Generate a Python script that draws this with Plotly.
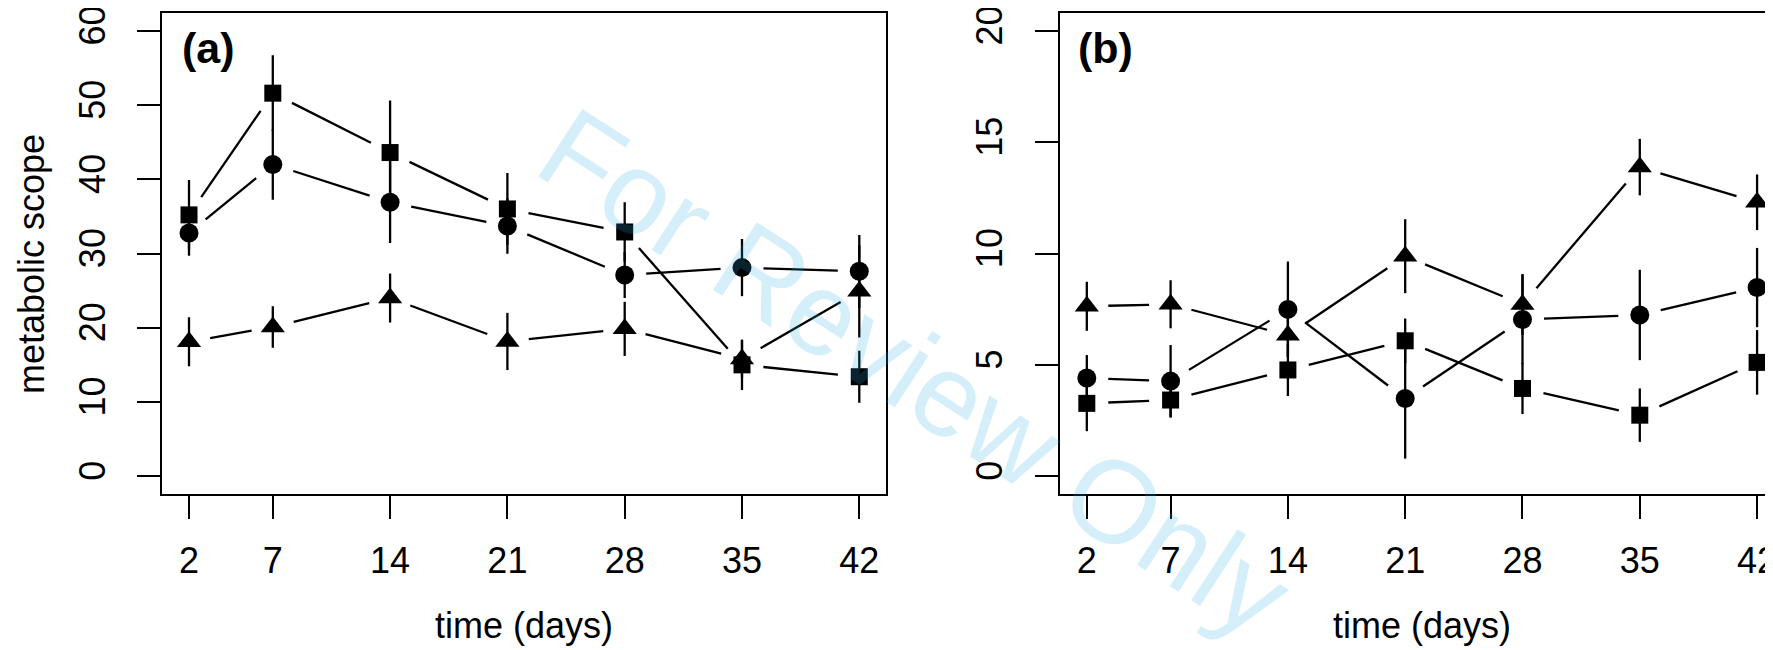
import math
import plotly.graph_objects as go

# ---------------- data ----------------
days = [2, 7, 14, 21, 28, 35, 42]
x_ticks = [2, 7, 14, 21, 28, 35, 42]

# panel (a)
square_a = [35.2, 51.6, 43.6, 36.0, 32.9, 15.0, 13.4]
square_a_se = [4.7, 5.1, 7.0, 4.85, 4.0, 3.4, 3.5]
circle_a = [32.75, 42.0, 36.9, 33.7, 27.1, 28.1, 27.6]
circle_a_se = [3.05, 4.75, 5.5, 3.75, 3.1, 3.85, 4.9]
triangle_a = [18.1, 20.1, 24.0, 18.15, 19.85, 15.8, 24.9]
triangle_a_se = [3.3, 2.8, 3.3, 3.85, 3.65, 2.5, 6.2]
y_ticks_a = [0, 10, 20, 30, 40, 50, 60]

# panel (b)
square_b = [3.27, 3.42, 4.77, 6.08, 3.94, 2.74, 5.11]
square_b_se = [1.25, 0.79, 1.17, 1.0, 1.15, 1.2, 1.45]
circle_b = [4.41, 4.27, 7.49, 3.49, 7.04, 7.24, 8.47]
circle_b_se = [1.03, 1.62, 2.15, 2.7, 2.0, 2.03, 1.78]
triangle_b = [7.63, 7.72, 6.33, 9.88, 7.71, 13.88, 12.3]
triangle_b_se = [1.1, 1.08, 0.95, 1.66, 1.37, 1.27, 1.25]
y_ticks_b = [0, 5, 10, 15, 20]

# ---------------- layout geometry (page pixels) ----------------
PAGE_W, PAGE_H = 1773, 650
OFF = 8                      # default body margin of the html page
FW, FH = PAGE_W - OFF, PAGE_H - OFF
TOP, BOTTOM = 13.3, 493.7
A_LEFT, A_RIGHT = 162.2, 886.1
B_LEFT = 1060.0
XR_A = [0.4, 43.6]
PX_PER_DAY = (A_RIGHT - A_LEFT) / (XR_A[1] - XR_A[0])
XR_B = [0.4, 0.4 + (PAGE_W - B_LEFT) / PX_PER_DAY]
YR_A = [-2.4, 62.4]
YR_B = [-0.8, 20.8]
PLOT_H = BOTTOM - TOP
GAP = 21.5  # gap (px) between point centre and connecting line (R type="b")

FONT = "Liberation Sans, Arial, Helvetica, sans-serif"
LW = 2.3


def fx(px):
    return (px - OFF) / FW


def fy(py):
    return (BOTTOM - py) / PLOT_H


def gapped(xs, ys, yr):
    sy = PLOT_H / (yr[1] - yr[0])
    gx, gy = [], []
    for i in range(len(xs) - 1):
        dx = (xs[i + 1] - xs[i]) * PX_PER_DAY
        dy = (ys[i + 1] - ys[i]) * sy
        d = math.hypot(dx, dy)
        if d <= 2 * GAP:
            continue
        f = GAP / d
        gx += [xs[i] + f * (xs[i + 1] - xs[i]), xs[i + 1] - f * (xs[i + 1] - xs[i]), None]
        gy += [ys[i] + f * (ys[i + 1] - ys[i]), ys[i + 1] - f * (ys[i + 1] - ys[i]), None]
    return gx, gy


fig = go.Figure()

series = [
    ("x", "y", YR_A, square_a, square_a_se, "square", 17),
    ("x", "y", YR_A, circle_a, circle_a_se, "circle", 19),
    ("x", "y", YR_A, triangle_a, triangle_a_se, "triangle-up", 21),
    ("x2", "y2", YR_B, square_b, square_b_se, "square", 17),
    ("x2", "y2", YR_B, circle_b, circle_b_se, "circle", 19),
    ("x2", "y2", YR_B, triangle_b, triangle_b_se, "triangle-up", 21),
]

for xa, ya, yr, vals, se, sym, size in series:
    lx, ly = gapped(days, vals, yr)
    fig.add_trace(go.Scatter(
        x=lx, y=ly, mode="lines", xaxis=xa, yaxis=ya,
        line=dict(color="black", width=LW), showlegend=False, hoverinfo="skip",
        cliponaxis=False,
    ))
    fig.add_trace(go.Scatter(
        x=days, y=vals, mode="markers", xaxis=xa, yaxis=ya,
        marker=dict(symbol=sym, size=size, color="black", line=dict(width=0)),
        error_y=dict(type="data", array=se, symmetric=True, color="black",
                     thickness=LW, width=0),
        showlegend=False, cliponaxis=False,
    ))

axis_common = dict(
    showgrid=False, zeroline=False, showline=True, linecolor="black", linewidth=LW,
    ticks="outside", ticklen=23, tickwidth=LW, tickcolor="black",
    tickfont=dict(family=FONT, size=36, color="black"),
    ticklabeloverflow="allow", automargin=False,
)

fig.update_layout(
    width=FW, height=FH,
    margin=dict(l=0, r=0, t=TOP - OFF, b=FH - (BOTTOM - OFF), pad=0),
    paper_bgcolor="white", plot_bgcolor="white",
    xaxis=dict(domain=[fx(A_LEFT), fx(A_RIGHT)], range=XR_A, tickmode="array",
               tickvals=x_ticks, ticktext=[str(t) for t in x_ticks], mirror=True,
               ticklabelstandoff=11, anchor="y", **axis_common),
    yaxis=dict(domain=[0, 1], range=YR_A, tickmode="array", tickvals=y_ticks_a,
               ticktext=[str(t) for t in y_ticks_a], mirror=True, tickangle=-90,
               ticklabelstandoff=18, anchor="x", **axis_common),
    xaxis2=dict(domain=[fx(B_LEFT), 1.0], range=XR_B, tickmode="array",
                tickvals=x_ticks, ticktext=[str(t) for t in x_ticks], mirror=True,
                ticklabelstandoff=11, anchor="y2", **axis_common),
    yaxis2=dict(domain=[0, 1], range=YR_B, tickmode="array", tickvals=y_ticks_b,
                ticktext=[str(t) for t in y_ticks_b], mirror=False, tickangle=-90,
                ticklabelstandoff=18, anchor="x2", **axis_common),
)

txt = dict(family=FONT, size=36, color="black")
annotations = [
    dict(text="<b>(a)</b>", x=fx(180), y=fy(48), xanchor="left", yanchor="middle",
         font=dict(family=FONT, size=43, color="black")),
    dict(text="<b>(b)</b>", x=fx(1076), y=fy(48), xanchor="left", yanchor="middle",
         font=dict(family=FONT, size=43, color="black")),
    dict(text="metabolic scope", x=fx(31), y=fy(264), textangle=-90,
         xanchor="center", yanchor="middle", font=txt),
    dict(text="time (days)", x=fx(524), y=fy(625), xanchor="center",
         yanchor="middle", font=txt),
    dict(text="time (days)", x=fx(1421.6), y=fy(625), xanchor="center",
         yanchor="middle", font=txt),
    dict(text="For Review Only", x=fx(915), y=fy(372), textangle=33,
         xanchor="center", yanchor="middle",
         font=dict(family=FONT, size=117, color="rgba(40,170,230,0.2)")),
]
for a in annotations:
    a.update(xref="paper", yref="paper", showarrow=False)
fig.update_layout(annotations=annotations)

fig.write_html("out.html")
